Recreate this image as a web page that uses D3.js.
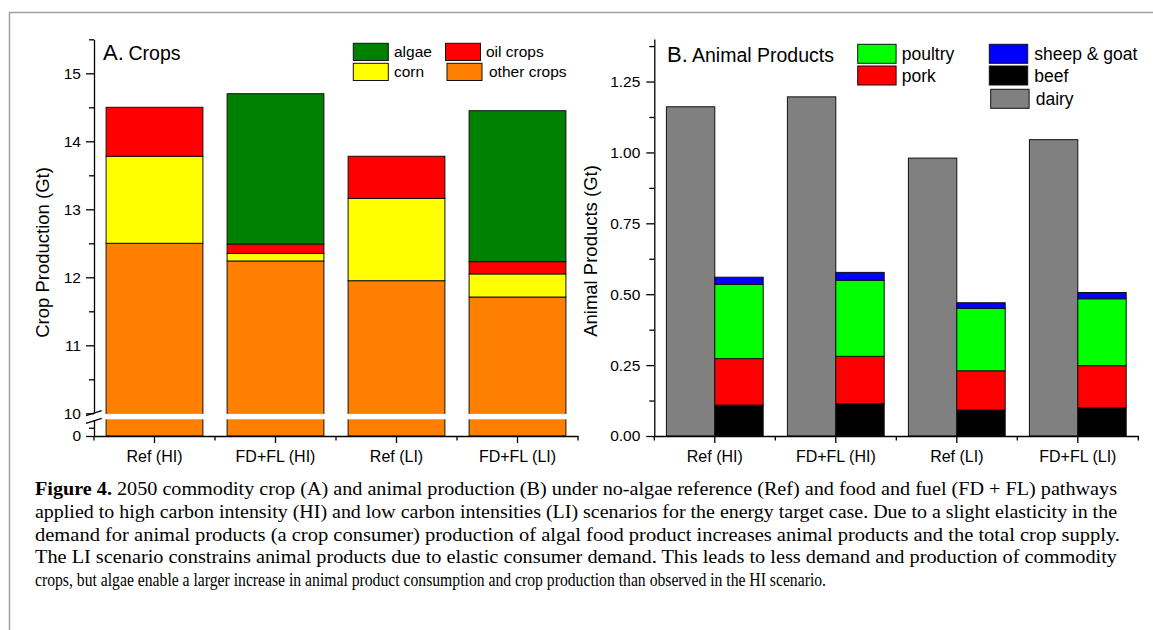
<!DOCTYPE html>
<html>
<head>
<meta charset="utf-8">
<script src="https://cdn.jsdelivr.net/npm/d3@7"></script>
<style>
  body { margin: 0; background: #fff; }
  svg { display: block; }
  text { font-family: "Liberation Sans", Arial, sans-serif; fill: #000; }
  .caption text { font-family: "Liberation Serif", "Times New Roman", serif; }
</style>
</head>
<body>
<svg id="fig" width="1153" height="630"></svg>
<script>
// scenarios
const categories = ["Ref (HI)", "FD+FL (HI)", "Ref (LI)", "FD+FL (LI)"];

// A. crops (Gt), stacked bottom -> top
const otherCrops = [12.50, 12.24, 11.95, 11.71];
const corn       = [1.28, 0.11, 1.21, 0.34];
const oilCrops   = [0.72, 0.14, 0.62, 0.18];
const algae      = [0.00, 2.21, 0.00, 2.22];
const cropTicks  = [10, 11, 12, 13, 14, 15];

// B. animal products (Gt)
const dairy     = [1.161, 1.196, 0.980, 1.045];
const beef      = [0.109, 0.114, 0.092, 0.099];
const pork      = [0.164, 0.167, 0.138, 0.149];
const poultry   = [0.262, 0.268, 0.220, 0.236];
const sheepGoat = [0.025, 0.028, 0.020, 0.022];
const animalTicks = [0, 0.25, 0.5, 0.75, 1.0, 1.25];

const captionLines = [
  " 2050 commodity crop (A) and animal production (B) under no-algae reference (Ref) and food and fuel (FD + FL) pathways",
  "applied to high carbon intensity (HI) and low carbon intensities (LI) scenarios for the energy target case. Due to a slight elasticity in the",
  "demand for animal products (a crop consumer) production of algal food product increases animal products and the total crop supply.",
  "The LI scenario constrains animal products due to elastic consumer demand. This leads to less demand and production of commodity",
  "crops, but algae enable a larger increase in animal product consumption and crop production than observed in the HI scenario."
];

const cropColors = { other: "#ff8000", corn: "#ffff00", oil: "#ff0000", algae: "#008000" };
const animalColors = { beef: "#000000", pork: "#ff0000", poultry: "#00ff00", sheep: "#0000ff", dairy: "#808080" };

const svg = d3.select("#fig");

// frame
svg.append("path")
  .attr("d", "M9.5,630V12.5H1153")
  .attr("fill", "none")
  .attr("stroke", "#a0a0a0")
  .attr("stroke-width", 1.5);

function styleAxis(size) {
  return g => {
    g.selectAll("path, line").attr("stroke", "#000").attr("stroke-width", 1.3);
    g.selectAll("text").attr("font-size", size).attr("font-family", "Liberation Sans, Arial, sans-serif");
  };
}

// ---------------- Panel A ----------------
const xA = d3.scaleBand().domain(categories).range([94, 578]).paddingInner(0.2).paddingOuter(0.1);
const yUp = d3.scaleLinear().domain([10, 15.5]).range([413.3, 39.3]);
const yLow = d3.scaleLinear().domain([0, 10]).range([436, 419.5]);
const yA = v => v <= 10 ? yLow(v) : yUp(v);

const cropRows = categories.map((c, i) => ({ cat: c, other: otherCrops[i], corn: corn[i], oil: oilCrops[i], algae: algae[i] }));
const cropStack = d3.stack().keys(["other", "corn", "oil", "algae"])(cropRows);

const gA = svg.append("g");
gA.selectAll("g.series")
  .data(cropStack)
  .join("g")
    .attr("class", "series")
    .attr("fill", d => cropColors[d.key])
  .selectAll("rect")
  .data(d => d.filter(p => p[1] - p[0] > 0))
  .join("rect")
    .attr("x", p => xA(p.data.cat))
    .attr("y", p => yA(p[1]))
    .attr("width", xA.bandwidth())
    .attr("height", p => yA(p[0]) - yA(p[1]))
    .attr("stroke", "#111")
    .attr("stroke-width", 1);

// axis break gap across the bars
gA.append("rect")
  .attr("x", 95).attr("y", yUp(10) + 0.6)
  .attr("width", 484).attr("height", yLow(10) - yUp(10) - 0.8)
  .attr("fill", "#fff");

gA.append("g").attr("transform", "translate(94,0)")
  .call(d3.axisLeft(yUp).tickValues(cropTicks).tickFormat(d3.format("d")).tickSize(8).tickPadding(5).tickSizeOuter(0))
  .call(styleAxis(15.5));
gA.append("g").attr("transform", "translate(94,0)")
  .call(d3.axisLeft(yUp).tickValues(cropTicks.map(t => t + 0.5)).tickSize(5).tickFormat("").tickSizeOuter(0))
  .call(g => g.select(".domain").remove())
  .call(styleAxis(15.5));
gA.append("g").attr("transform", "translate(94,0)")
  .call(d3.axisLeft(yLow).tickValues([0]).tickFormat(d3.format("d")).tickSize(8).tickPadding(5).tickSizeOuter(0))
  .call(styleAxis(15.5));
gA.append("g").attr("transform", "translate(94,0)")
  .call(d3.axisLeft(yLow).tickValues([5]).tickSize(5).tickFormat("").tickSizeOuter(0))
  .call(g => g.select(".domain").remove())
  .call(styleAxis(15.5));

// break marks
[[415.7, 410.7], [423.3, 418.3]].forEach(([y1, y2]) => {
  gA.append("line")
    .attr("x1", 86).attr("y1", y1).attr("x2", 101.7).attr("y2", y2)
    .attr("stroke", "#000").attr("stroke-width", 1.3);
});

gA.append("g").attr("transform", "translate(0,436)")
  .call(d3.axisBottom(xA).tickSize(7).tickPadding(8).tickSizeOuter(0))
  .call(styleAxis(16));
gA.append("g").selectAll("line")
  .data(d3.range(categories.length + 1))
  .join("line")
    .attr("x1", i => xA.range()[0] + i * xA.step())
    .attr("x2", i => xA.range()[0] + i * xA.step())
    .attr("y1", 436).attr("y2", 440.5)
    .attr("stroke", "#000").attr("stroke-width", 1.3);

gA.append("text")
  .attr("transform", "translate(42,252.5) rotate(-90)")
  .attr("text-anchor", "middle")
  .attr("dominant-baseline", "central")
  .attr("font-size", 18.5)
  .text("Crop Production (Gt)");

gA.append("text").attr("x", 103).attr("y", 60).attr("font-size", 22).text("A.");
gA.append("text").attr("x", 128.5).attr("y", 60).attr("font-size", 19.5).text("Crops");

const legA = [
  { key: "algae", label: "algae", x: 353.3, y: 43.3, tx: 394 },
  { key: "corn", label: "corn", x: 353.3, y: 63.3, tx: 394 },
  { key: "oil", label: "oil crops", x: 445.5, y: 43.3, tx: 486 },
  { key: "other", label: "other crops", x: 447, y: 63.3, tx: 489 }
];
const lgA = gA.append("g").selectAll("g").data(legA).join("g");
lgA.append("rect")
  .attr("x", d => d.x).attr("y", d => d.y)
  .attr("width", 35).attr("height", 17.2)
  .attr("fill", d => cropColors[d.key])
  .attr("stroke", "#111").attr("stroke-width", 1);
lgA.append("text")
  .attr("x", d => d.tx).attr("y", d => d.y + 14)
  .attr("font-size", 15.5)
  .text(d => d.label);

// ---------------- Panel B ----------------
const xB = d3.scaleBand().domain(categories).range([654.3, 1138.3]).paddingInner(0.2).paddingOuter(0.1);
const yB = d3.scaleLinear().domain([0, 1.4]).range([436, 39]);
const half = xB.bandwidth() / 2;

const animalRows = categories.map((c, i) => ({ cat: c, beef: beef[i], pork: pork[i], poultry: poultry[i], sheep: sheepGoat[i] }));
const meatStack = d3.stack().keys(["beef", "pork", "poultry", "sheep"])(animalRows);

const gB = svg.append("g");
gB.append("g").selectAll("rect")
  .data(categories.map((c, i) => ({ cat: c, v: dairy[i] })))
  .join("rect")
    .attr("x", d => xB(d.cat))
    .attr("y", d => yB(d.v))
    .attr("width", half)
    .attr("height", d => yB(0) - yB(d.v))
    .attr("fill", animalColors.dairy)
    .attr("stroke", "#111").attr("stroke-width", 1);

gB.selectAll("g.series")
  .data(meatStack)
  .join("g")
    .attr("class", "series")
    .attr("fill", d => animalColors[d.key])
  .selectAll("rect")
  .data(d => d)
  .join("rect")
    .attr("x", p => xB(p.data.cat) + half)
    .attr("y", p => yB(p[1]))
    .attr("width", half)
    .attr("height", p => yB(p[0]) - yB(p[1]))
    .attr("stroke", "#111")
    .attr("stroke-width", 1);

gB.append("g").attr("transform", "translate(654.3,0)")
  .call(d3.axisLeft(yB).tickValues(animalTicks).tickFormat(d3.format(".2f")).tickSize(8).tickPadding(6).tickSizeOuter(0))
  .call(styleAxis(15.5));
gB.append("g").attr("transform", "translate(654.3,0)")
  .call(d3.axisLeft(yB).tickValues(animalTicks.map(t => t + 0.125)).tickSize(5).tickFormat("").tickSizeOuter(0))
  .call(g => g.select(".domain").remove())
  .call(styleAxis(15.5));

gB.append("g").attr("transform", "translate(0,436)")
  .call(d3.axisBottom(xB).tickSize(7).tickPadding(8).tickSizeOuter(0))
  .call(styleAxis(16));
gB.append("g").selectAll("line")
  .data(d3.range(categories.length + 1))
  .join("line")
    .attr("x1", i => xB.range()[0] + i * xB.step())
    .attr("x2", i => xB.range()[0] + i * xB.step())
    .attr("y1", 436).attr("y2", 440.5)
    .attr("stroke", "#000").attr("stroke-width", 1.3);

gB.append("text")
  .attr("transform", "translate(590,251) rotate(-90)")
  .attr("text-anchor", "middle")
  .attr("dominant-baseline", "central")
  .attr("font-size", 18.5)
  .text("Animal Products (Gt)");

gB.append("text").attr("x", 667).attr("y", 61.7).attr("font-size", 22).text("B.");
gB.append("text").attr("x", 692).attr("y", 61.7).attr("font-size", 19.5).text("Animal Products");

const legB = [
  { key: "poultry", label: "poultry", x: 857.7, y: 44.3, tx: 901.7 },
  { key: "pork", label: "pork", x: 857.7, y: 66, tx: 901.7 },
  { key: "sheep", label: "sheep & goat", x: 989.3, y: 44.3, tx: 1034.3 },
  { key: "beef", label: "beef", x: 989.3, y: 66, tx: 1034.3 },
  { key: "dairy", label: "dairy", x: 990.7, y: 89.3, tx: 1035.7 }
];
const lgB = gB.append("g").selectAll("g").data(legB).join("g");
lgB.append("rect")
  .attr("x", d => d.x).attr("y", d => d.y)
  .attr("width", 38.4).attr("height", 19)
  .attr("fill", d => animalColors[d.key])
  .attr("stroke", "#111").attr("stroke-width", 1);
lgB.append("text")
  .attr("x", d => d.tx).attr("y", d => d.y + 15.5)
  .attr("font-size", 17.5)
  .text(d => d.label);

// ---------------- Caption ----------------
const capWidths = [1082, 1082, 1085, 1082, 791];
const capBase = [495, 518, 540.5, 563, 586];
const cap = svg.append("g").attr("class", "caption");
captionLines.forEach((line, i) => {
  const t = cap.append("text")
    .attr("x", 35).attr("y", capBase[i])
    .attr("font-size", 18.5)
    .attr("textLength", capWidths[i])
    .attr("lengthAdjust", "spacingAndGlyphs");
  if (i === 0) t.append("tspan").attr("font-weight", "bold").text("Figure 4.");
  t.append("tspan").text(line);
});
</script>
</body>
</html>
